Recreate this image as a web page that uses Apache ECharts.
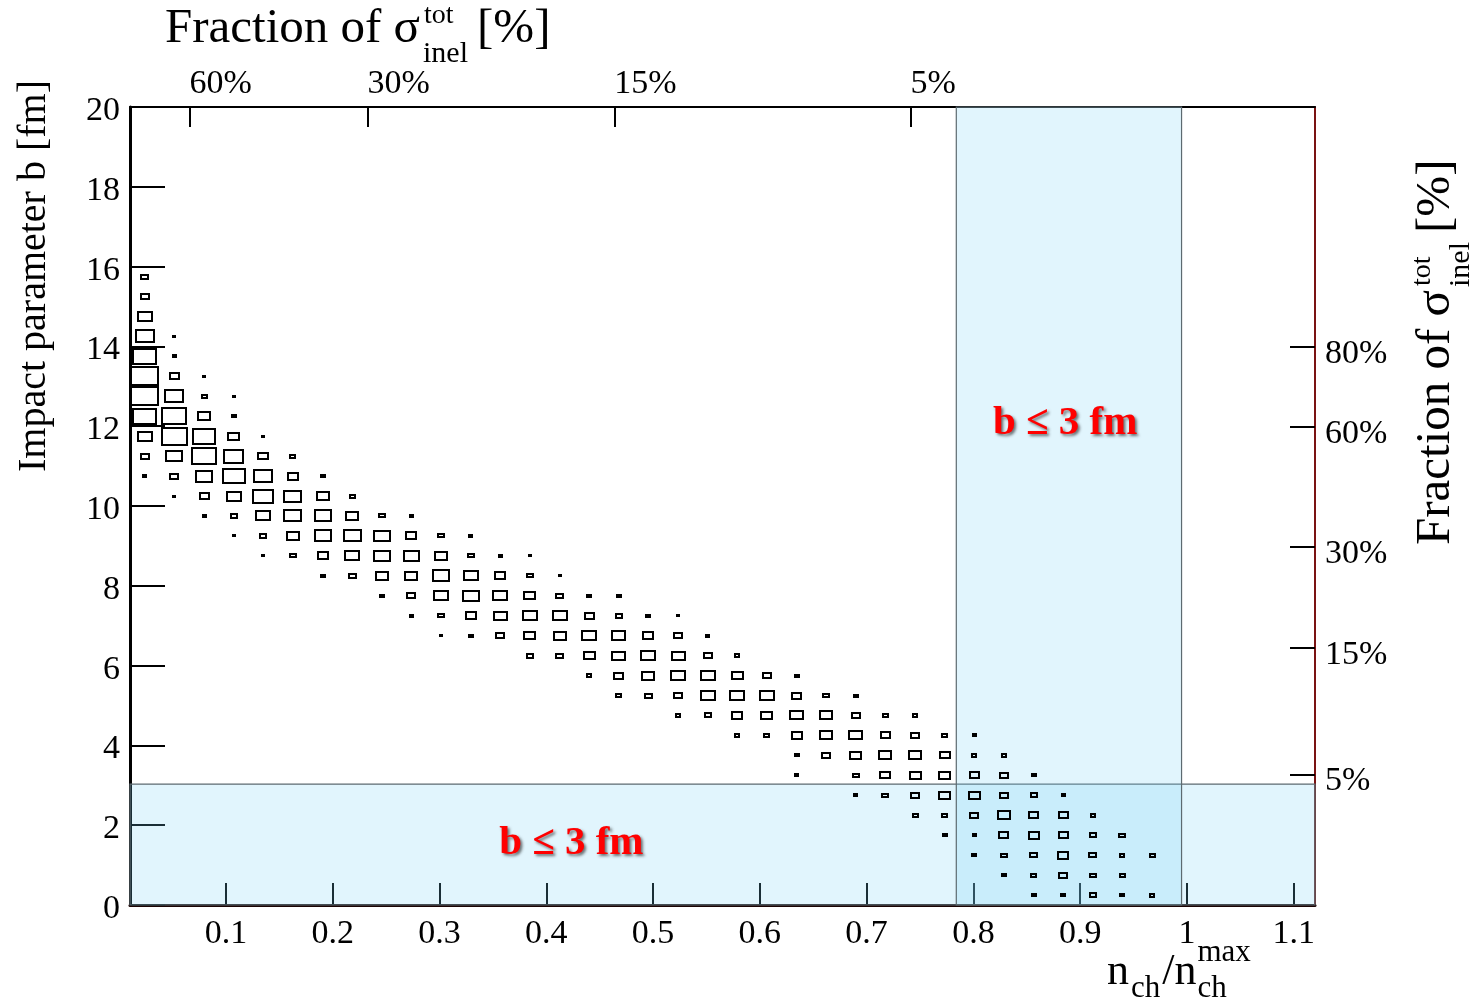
<!DOCTYPE html>
<html><head><meta charset="utf-8">
<script src="https://cdn.jsdelivr.net/npm/echarts@6.0.0/dist/echarts.min.js"></script>
<style>html,body{margin:0;padding:0;background:#fff}#chart{width:1478px;height:1006px}</style>
</head><body><div id="chart"></div>
<script>
// ---- data ----
const nchRange = [0.01, 1.12];
const bRange = [0, 20];
const nchBinWidth = 0.02775;
const bBinWidth = 0.5;
const nchCenters = [0.0239,0.0516,0.0794,0.1071,0.1349,0.1626,0.1904,0.2181,0.2459,0.2736,
  0.3014,0.3291,0.3569,0.3846,0.4124,0.4401,0.4679,0.4956,0.5234,0.5511,
  0.5789,0.6066,0.6344,0.6621,0.6899,0.7176,0.7454,0.7731,0.8009,0.8286,
  0.8564,0.8841,0.9119,0.9396,0.9674];
// b-bin centre of the lowest filled bin in each n_ch column
const bFirstCenter = [10.75,10.25,9.75,9.25,8.75,8.75,8.25,8.25,7.75,7.25,
  6.75,6.75,6.75,6.25,6.25,5.75,5.25,5.25,4.75,4.75,
  4.25,4.25,3.25,3.75,2.75,2.75,2.25,1.75,1.25,0.75,
  0.25,0.25,0.25,0.25,0.25];
// bin contents (relative), bottom to top, per n_ch column
const binCounts = [
  [14,32,52,81,95,95,81,65,50,29,27],
  [11,29,56,88,83,65,34,14,11],
  [14,34,59,84,79,43,20,11],
  [11,25,52,77,68,41,16,11],
  [11,25,50,70,63,36,11],
  [22,43,61,61,38,20],
  [16,38,59,59,45,16],
  [27,52,61,45,20],
  [16,43,57,56,22],
  [14,30,45,54,38,15],
  [11,22,50,58,45,22],
  [16,38,56,52,22,13],
  [32,47,50,38,13],
  [25,41,52,41,22,11],
  [27,45,50,27,11],
  [18,41,50,34,16],
  [21,34,46,48,23,16],
  [27,43,50,38,16],
  [18,32,50,47,29,11],
  [25,52,50,29,13],
  [18,38,52,41,18],
  [20,41,52,32],
  [13,16,38,47,34,16],
  [29,45,45,22],
  [13,22,41,47,32,16],
  [22,36,45,34,20],
  [20,29,41,43,30,18],
  [16,20,40,42,36,21],
  [16,13,32,41,34,18,13],
  [16,22,34,43,32,32,18],
  [16,20,27,38,34,25,16],
  [16,29,38,34,34,13],
  [25,22,27,25,18],
  [16,20,18,22],
  [18,0,20]
];
const boxFullScale = 100;
const bottomTicks = [0.1,0.2,0.3,0.4,0.5,0.6,0.7,0.8,0.9,1,1.1];
const topTickPos = [0.0657,0.2324,0.4637,0.741];
const topTickLabels = ['60%','30%','15%','5%'];
const rightTickPos = [13.99,11.99,8.98,6.44,3.27];
const rightTickLabels = ['80%','60%','30%','15%','5%'];
const cutB = 3.03;
const cutNch = [0.784, 0.995];
const cutLabel = 'b \u2264 3 fm';
const cutLabelPos = [[0.4234,1.55],[0.886,12.06]];

// ---- build ----
const cells = [];
binCounts.forEach((col, i) => {
  col.forEach((v, k) => { if (v > 0) cells.push([nchCenters[i], bFirstCenter[i] + k * bBinWidth, v]); });
});

const FONT = '"Liberation Serif", "Times New Roman", serif';
const mctx = document.createElement('canvas').getContext('2d');
function tw(t, size) { mctx.font = size + 'px ' + FONT; return mctx.measureText(t).width; }
function txt(t, x, base, size) {
  return { type: 'text', x: x, y: base - 0.33 * size,
    style: { text: t, fontSize: size, fontFamily: FONT, fill: '#000', align: 'left', verticalAlign: 'middle' } };
}
function sigmaTitle(x, y, rot) {
  const S = 49, s1 = 28, s2 = 30;
  const main = 'Fraction of \u03c3';
  const w = tw(main, S);
  const sx = w + 3;
  const ws = Math.max(tw('tot', s1), tw('inel', s2));
  return { type: 'group', x: x, y: y, rotation: rot, silent: true, children: [
    txt(main, 0, 0, S), txt('tot', sx + 1, -20, s1), txt('inel', sx, 19, s2), txt('[%]', sx + ws + 9, 0, S)
  ]};
}
function nchTitle(x, y) {
  const S = 44, s = 31;
  const wn = tw('n', S), wch = tw('ch', s), wsl = tw('/n', S);
  const x2 = wn + 2 + wch + 2;
  const x3 = x2 + wsl + 1;
  return { type: 'group', x: x, y: y, silent: true, children: [
    txt('n', 0, 0, S), txt('ch', wn + 2, 12, s), txt('/n', x2, 0, S), txt('max', x3, -24, s), txt('ch', x3, 12, s)
  ]};
}
function lookup(pos, labels) {
  return v => { const i = pos.findIndex(p => Math.abs(p - v) < 1e-6); return i >= 0 ? '{a|' + labels[i] + '}' : ''; };
}

const chart = echarts.init(document.getElementById('chart'));
const labelFont = { fontFamily: FONT, fontSize: 34, color: '#000' };
const shifted = pad => ({ a: { fontFamily: FONT, fontSize: 34, color: '#000', padding: [pad, 0, 0, 0] } });
chart.setOption({
  animation: false,
  backgroundColor: '#fff',
  grid: { left: 130, right: 163, top: 107, bottom: 101, containLabel: false, outerBoundsMode: 'none' },
  xAxis: [
    { type: 'value', position: 'bottom', min: nchRange[0], max: nchRange[1],
      axisLine: { show: true, lineStyle: { color: '#1a0303', width: 3 } },
      axisTick: { show: true, inside: true, length: 22, lineStyle: { color: '#000', width: 2 }, customValues: bottomTicks },
      axisLabel: Object.assign({ margin: 12, customValues: bottomTicks }, labelFont),
      splitLine: { show: false } },
    { type: 'value', position: 'top', min: nchRange[0], max: nchRange[1],
      axisLine: { show: true, onZero: false, lineStyle: { color: '#000', width: 2 } },
      axisTick: { show: true, inside: true, length: 20, lineStyle: { color: '#000', width: 2 }, customValues: topTickPos },
      axisLabel: Object.assign({ margin: 6, align: 'left', customValues: topTickPos,
        formatter: lookup(topTickPos, topTickLabels), rich: shifted(0) }, labelFont),
      splitLine: { show: false } }
  ],
  yAxis: [
    { type: 'value', position: 'left', min: bRange[0], max: bRange[1], interval: 2,
      axisLine: { show: true, onZero: false, lineStyle: { color: '#000', width: 3 } },
      axisTick: { show: true, inside: true, length: 35, lineStyle: { color: '#000', width: 2 } },
      axisLabel: Object.assign({ margin: 10, formatter: v => '{a|' + v + '}', rich: shifted(8) }, labelFont),
      splitLine: { show: false } },
    { type: 'value', position: 'right', min: bRange[0], max: bRange[1],
      axisLine: { show: true, onZero: false, lineStyle: { color: '#7a1212', width: 2 } },
      axisTick: { show: true, inside: true, length: 25, lineStyle: { color: '#000', width: 2 }, customValues: rightTickPos },
      axisLabel: Object.assign({ margin: 10, customValues: rightTickPos,
        formatter: lookup(rightTickPos, rightTickLabels), rich: shifted(14) }, labelFont),
      splitLine: { show: false } }
  ],
  series: [
    { type: 'custom', xAxisIndex: 0, yAxisIndex: 0, z: 2, silent: true,
      data: cells,
      renderItem: function (params, api) {
        const v = api.value(2);
        const c = api.coord([api.value(0), api.value(1)]);
        const sz = api.size([nchBinWidth, bBinWidth]);
        const f = v / boxFullScale;
        // outer size of the drawn box
        const W = Math.max(Math.round(sz[0] * f + 1), 3), H = Math.max(Math.round(sz[1] * f + 1), 3);
        const X = Math.round(c[0] - W / 2), Y = Math.round(c[1] - H / 2);
        if (W <= 5 || H <= 4) {
          return { type: 'rect', shape: { x: X, y: Y, width: W, height: H }, style: { fill: '#000' } };
        }
        return { type: 'rect', shape: { x: X + 1, y: Y + 1, width: W - 2, height: H - 2 },
          style: { fill: 'rgba(0,0,0,0)', stroke: '#000', lineWidth: 2 } };
      } },
    { type: 'line', xAxisIndex: 0, yAxisIndex: 0, z: 10, data: [], silent: true,
      markArea: { silent: true, label: { show: false },
        itemStyle: { color: 'rgba(120,210,245,0.22)', borderColor: '#5d6a70', borderWidth: 1.2 },
        data: [
          [{ xAxis: nchRange[0], yAxis: 0 }, { xAxis: nchRange[1], yAxis: cutB }],
          [{ xAxis: cutNch[0], yAxis: bRange[0] }, { xAxis: cutNch[1], yAxis: bRange[1] }]
        ] },
      markPoint: { silent: true, symbol: 'rect', symbolSize: 1, itemStyle: { color: 'rgba(0,0,0,0)' },
        label: { show: true, position: 'inside', formatter: cutLabel, color: '#ff0000', fontFamily: FONT,
          fontWeight: 'bold', fontSize: 41, textShadowColor: 'rgba(40,40,40,0.65)', textShadowBlur: 3,
          textShadowOffsetX: 2, textShadowOffsetY: 2 },
        data: cutLabelPos.map(p => ({ coord: p })) } }
  ],
  graphic: [
    sigmaTitle(165, 45, 0),
    sigmaTitle(1452, 545, Math.PI / 2),
    { type: 'group', x: 48, y: 472, rotation: Math.PI / 2, silent: true, children: [txt('Impact parameter b [fm]', 0, 0, 40)] },
    nchTitle(1107, 987)
  ]
});
</script></body></html>
